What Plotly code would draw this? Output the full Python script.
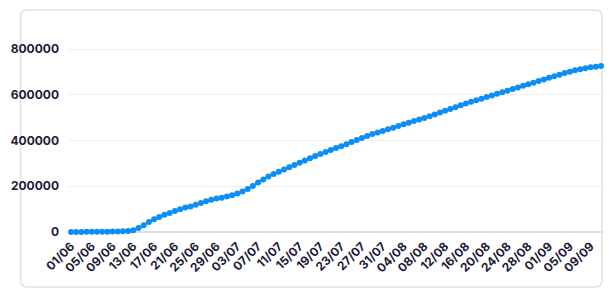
import datetime as dt
import plotly.graph_objects as go

# Daily cumulative values, 01/06 .. 11/09
start_date = "2020-06-01"
values = [
    0, 200, 400, 600, 800, 1000, 1300, 1600, 2000, 2500,
    3200, 4500, 8000, 17000, 30000, 44000, 56000, 66000, 75000, 83000,
    92000, 100000, 107000, 112000, 119000, 127000, 135000, 141000, 146000, 150000,
    155000, 161000, 168000, 177000, 188000, 201000, 216000, 230000, 243000, 254000,
    263000, 273000, 283000, 293000, 303000, 313000, 322000, 332000, 341000, 350000,
    359000, 367000, 375000, 384000, 393000, 402000, 411000, 420000, 428000, 435000,
    442000, 449000, 456000, 464000, 471000, 478000, 485000, 492000, 499000, 506000,
    514000, 522000, 530000, 538000, 546000, 554000, 562000, 569000, 576000, 583000,
    590000, 597000, 604000, 611000, 618000, 625000, 632000, 639000, 646000, 653000,
    660000, 667000, 674000, 681000, 688000, 695000, 701000, 707000, 712000, 716000,
    720000, 723000, 726000,
]
tick_every = 4
y_ticks = [0, 200000, 400000, 600000, 800000]

d0 = dt.date.fromisoformat(start_date)
labels = [(d0 + dt.timedelta(days=i)).strftime("%d/%m") for i in range(len(values))]
xs = list(range(len(values)))

fig = go.Figure()
fig.add_trace(go.Scatter(
    x=xs, y=values, mode="lines+markers",
    line=dict(color="#0b8ef7", width=2),
    marker=dict(color="#0b8ef7", size=6),
    cliponaxis=False, hoverinfo="skip",
))

ink = "#1d1a3a"
n = len(values)
fig.update_layout(
    width=613, height=300,
    margin=dict(l=63, r=10, t=20, b=68),
    paper_bgcolor="white", plot_bgcolor="white",
    showlegend=False,
    font=dict(family="Inter", color=ink),
    xaxis=dict(
        range=[-0.38, n - 1 + 0.38],
        tickmode="array",
        tickvals=xs[::tick_every],
        ticktext=labels[::tick_every],
        tickangle=-45,
        tickfont=dict(size=12, weight=700, color=ink),
        showgrid=False, zeroline=False,
        showline=False, ticks="",
        ticklabelstandoff=4,
    ),
    yaxis=dict(
        range=[0, 927000],
        tickmode="array",
        tickvals=y_ticks,
        ticktext=[str(v) for v in y_ticks],
        tickfont=dict(size=12, weight=700, color=ink),
        showgrid=True, gridcolor="#efefef", gridwidth=1,
        zeroline=True, zerolinecolor="#dcdcdc", zerolinewidth=1.5,
        showline=False, ticks="",
        ticklabelstandoff=9,
    ),
)

# rounded card border (decoration)
pw, ph = 540.0, 212.0
L, R = (14 - 63) / pw, (602 - 63) / pw
T, B = (232 - 10) / ph, (232 - 287) / ph
rx, ry = 7 / pw, 7 / ph
path = (f"M {L+rx},{T} L {R-rx},{T} Q {R},{T} {R},{T-ry} "
        f"L {R},{B+ry} Q {R},{B} {R-rx},{B} "
        f"L {L+rx},{B} Q {L},{B} {L},{B+ry} "
        f"L {L},{T-ry} Q {L},{T} {L+rx},{T} Z")
fig.add_shape(type="path", path=path, xref="paper", yref="paper",
              line=dict(color="#e2e2e2", width=1.5), layer="below")

fig.write_html("out.html")
